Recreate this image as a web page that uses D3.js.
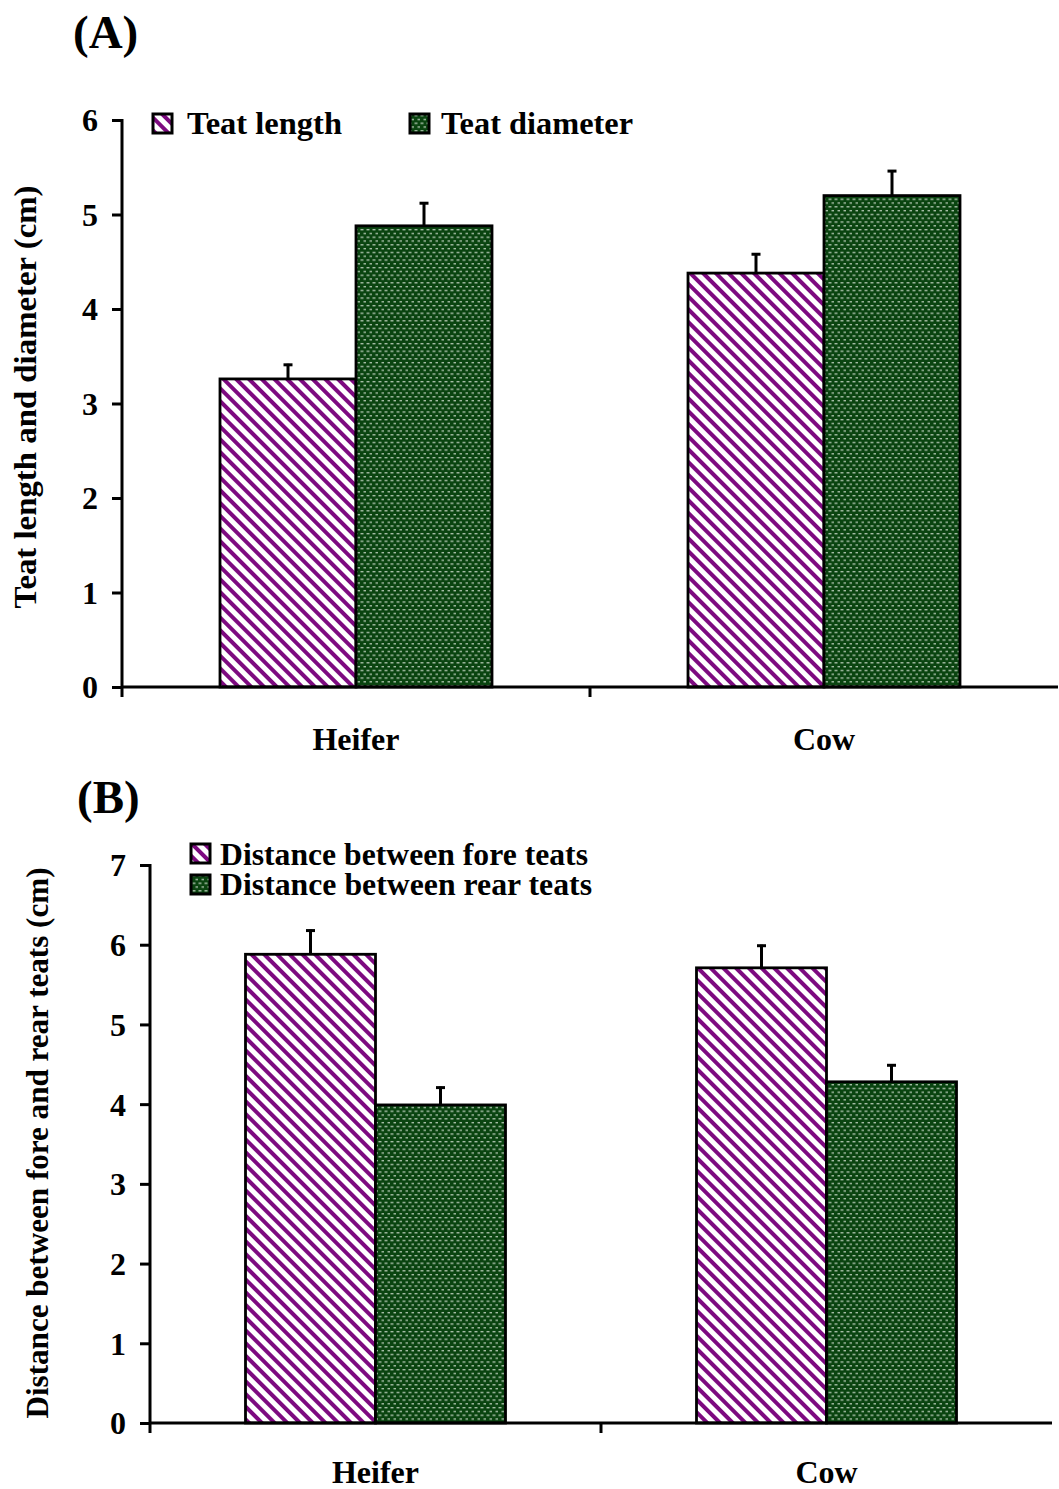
<!DOCTYPE html>
<html>
<head>
<meta charset="utf-8">
<script src="https://cdn.jsdelivr.net/npm/d3@7"></script>
<style>
  html, body { margin: 0; padding: 0; background: #fff; }
  svg { display: block; }
  text { font-family: "Liberation Serif", "Times New Roman", Times, serif; font-weight: bold; fill: #000; }
</style>
</head>
<body>
<svg id="chart" width="1059" height="1489"></svg>
<script>
// Categories shared by both panels
const categories = ["Heifer", "Cow"];

// Panel A: teat length and teat diameter (cm), mean and SE
const seriesA = ["Teat length", "Teat diameter"];
const teatLength = [3.26, 4.38];
const teatLengthErr = [0.16, 0.21];
const teatDiameter = [4.88, 5.20];
const teatDiameterErr = [0.25, 0.27];
const ticksA = [0, 1, 2, 3, 4, 5, 6];

// Panel B: distance between fore / rear teats (cm), mean and SE
const seriesB = ["Distance between fore teats", "Distance between rear teats"];
const foreTeats = [5.88, 5.71];
const foreTeatsErr = [0.31, 0.29];
const rearTeats = [3.99, 4.28];
const rearTeatsErr = [0.23, 0.22];
const ticksB = [0, 1, 2, 3, 4, 5, 6, 7];

const svg = d3.select("#chart");
const defs = svg.append("defs");

// Purple diagonal hatch (lines running down to the right)
const hatch = defs.append("pattern")
  .attr("id", "hatch").attr("patternUnits", "userSpaceOnUse")
  .attr("width", 9).attr("height", 9)
  .attr("patternTransform", "rotate(45)");
hatch.append("rect").attr("width", 9).attr("height", 9).attr("fill", "#fff");
hatch.append("rect").attr("x", 0).attr("y", 0).attr("width", 9).attr("height", 4).attr("fill", "#7d0a80");

// Dark green fill with light staggered dashes
const dots = defs.append("pattern")
  .attr("id", "dots").attr("patternUnits", "userSpaceOnUse")
  .attr("width", 6).attr("height", 7.6);
dots.append("rect").attr("width", 6).attr("height", 7.6).attr("fill", "#0a4410");
dots.append("rect").attr("x", 0.5).attr("y", 1).attr("width", 3).attr("height", 1.3).attr("fill", "#b4c8b4");
dots.append("rect").attr("x", 3.5).attr("y", 4.8).attr("width", 3).attr("height", 1.3).attr("fill", "#b4c8b4");

const fills = ["url(#hatch)", "url(#dots)"];
const FONT = "32px";

function drawPanel(cfg) {
  const g = svg.append("g");
  const y = d3.scaleLinear().domain([0, cfg.yMax]).range([cfg.yBottom, cfg.yTop]);
  const x = d3.scaleBand().domain(categories).range([cfg.xLeft, cfg.xRight]).padding(0);
  const sub = d3.scaleBand().domain(cfg.series).range([-cfg.barW, cfg.barW]);

  // bars + error bars
  cfg.series.forEach((s, si) => {
    const vals = cfg.values[si], errs = cfg.errors[si];
    const data = categories.map((c, i) => ({ c, v: vals[i], e: errs[i] }));
    const bx = d => x(d.c) + x.bandwidth() / 2 + sub(s);
    g.selectAll(null).data(data).enter().append("rect")
      .attr("x", bx)
      .attr("y", d => y(d.v))
      .attr("width", sub.bandwidth())
      .attr("height", d => y(0) - y(d.v))
      .attr("fill", fills[si])
      .attr("stroke", "#000").attr("stroke-width", 2.8);
    const cx = d => bx(d) + sub.bandwidth() / 2;
    g.selectAll(null).data(data).enter().append("line")
      .attr("x1", cx).attr("x2", cx)
      .attr("y1", d => y(d.v)).attr("y2", d => y(d.v + d.e))
      .attr("stroke", "#000").attr("stroke-width", 3);
    g.selectAll(null).data(data).enter().append("line")
      .attr("x1", d => cx(d) - 4.5).attr("x2", d => cx(d) + 4.5)
      .attr("y1", d => y(d.v + d.e) + 1).attr("y2", d => y(d.v + d.e) + 1)
      .attr("stroke", "#000").attr("stroke-width", 3);
  });

  // y axis
  const yAxis = g.append("g").attr("transform", `translate(${cfg.xLeft},0)`)
    .call(d3.axisLeft(y).tickValues(cfg.ticks).tickFormat(d3.format("d")).tickSize(10).tickSizeOuter(0).tickPadding(cfg.tickPad));
  yAxis.select(".domain").remove();
  yAxis.selectAll(".tick line").attr("stroke", "#000").attr("stroke-width", 3);
  yAxis.selectAll(".tick text").style("font-size", FONT).style("font-family", "'Liberation Serif', 'Times New Roman', serif").style("font-weight", "bold").attr("dy", "0.34em");
  g.append("line").attr("x1", cfg.xLeft).attr("x2", cfg.xLeft)
    .attr("y1", y(cfg.yMax) - 1).attr("y2", y(0) + 10)
    .attr("stroke", "#000").attr("stroke-width", 3);

  // x axis
  g.append("line").attr("x1", cfg.xLeft - 1).attr("x2", cfg.xRight)
    .attr("y1", y(0)).attr("y2", y(0)).attr("stroke", "#000").attr("stroke-width", 3);
  const bounds = categories.slice(1).map(c => x(c));
  g.selectAll(null).data(bounds).enter().append("line")
    .attr("x1", d => d).attr("x2", d => d)
    .attr("y1", y(0)).attr("y2", y(0) + 10)
    .attr("stroke", "#000").attr("stroke-width", 3);
  g.selectAll(null).data(categories).enter().append("text")
    .attr("x", d => x(d) + x.bandwidth() / 2)
    .attr("y", cfg.catY)
    .attr("text-anchor", "middle").style("font-size", FONT)
    .text(d => d);

  // y axis title
  g.append("text")
    .attr("transform", `translate(${cfg.titleX},${cfg.titleY}) rotate(-90)`)
    .attr("text-anchor", "middle").style("font-size", FONT)
    .attr("textLength", cfg.titleLen).attr("lengthAdjust", "spacingAndGlyphs")
    .text(cfg.yTitle);

  // panel letter
  g.append("text").attr("x", cfg.letterX).attr("y", cfg.letterY)
    .style("font-size", "47px").text(cfg.letter);

  // legend
  cfg.series.forEach((s, si) => {
    const L = cfg.legend[si];
    g.append("rect").attr("x", L.bx).attr("y", L.by).attr("width", 19).attr("height", 19)
      .attr("fill", fills[si]).attr("stroke", "#000").attr("stroke-width", 3);
    g.append("text").attr("x", L.tx).attr("y", L.ty).style("font-size", cfg.legendFont)
      .attr("textLength", L.len).attr("lengthAdjust", "spacingAndGlyphs")
      .text(s);
  });
}

drawPanel({
  series: seriesA, values: [teatLength, teatDiameter], errors: [teatLengthErr, teatDiameterErr],
  ticks: ticksA, yMax: 6, yBottom: 687, yTop: 120,
  xLeft: 122, xRight: 1058, barW: 136, tickPad: 14,
  catY: 750, titleX: 36, titleY: 397, titleLen: 423,
  yTitle: "Teat length and diameter (cm)",
  letter: "(A)", letterX: 73, letterY: 48,
  legendFont: "32px",
  legend: [
    { bx: 153, by: 114, tx: 187, ty: 134, len: 155 },
    { bx: 410, by: 114, tx: 441, ty: 134, len: 192 }
  ]
});

drawPanel({
  series: seriesB, values: [foreTeats, rearTeats], errors: [foreTeatsErr, rearTeatsErr],
  ticks: ticksB, yMax: 7, yBottom: 1423, yTop: 865,
  xLeft: 150, xRight: 1052, barW: 130, tickPad: 14,
  catY: 1483, titleX: 48, titleY: 1143, titleLen: 551,
  yTitle: "Distance between fore and rear teats (cm)",
  letter: "(B)", letterX: 77, letterY: 813,
  legendFont: "31px",
  legend: [
    { bx: 191, by: 844, tx: 220, ty: 865, len: 368 },
    { bx: 191, by: 875, tx: 220, ty: 895, len: 372 }
  ]
});
</script>
</body>
</html>
